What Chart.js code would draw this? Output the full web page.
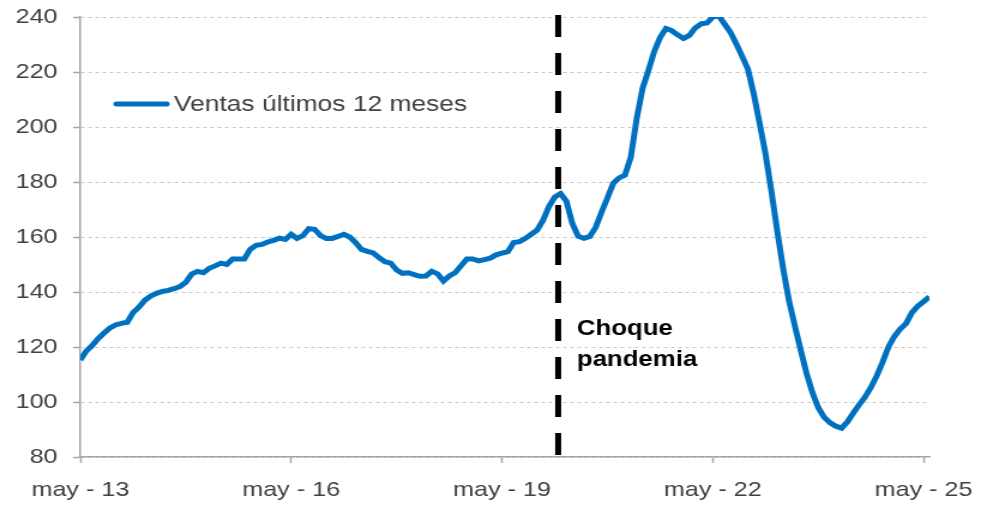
<!DOCTYPE html>
<html>
<head>
<meta charset="utf-8">
<script src="https://cdn.jsdelivr.net/npm/chart.js@4.4.1/dist/chart.umd.min.js"></script>
<style>
  html, body { margin: 0; padding: 0; background: #ffffff; overflow: hidden; }
  #wrap { width: 981px; height: 507px; position: relative; }
</style>
</head>
<body>
<div id="wrap">
  <!-- el original está estirado en horizontal (~1.2x): se dibuja a 818 px y se muestra a 981 px -->
  <canvas id="ventasChart" width="818" height="507" style="width:981px;height:507px"></canvas>
</div>
<script>
// Ventas últimos 12 meses, mensual desde may-13
const ventas = [
    115.3, 118.5, 120.5, 123.0, 125.0, 126.8, 128.0, 128.6, 129.0, 132.5,
    134.5, 137.0, 138.5, 139.5, 140.2, 140.6, 141.2, 142.0, 143.5, 146.5,
    147.5, 147.0, 148.6, 149.5, 150.5, 150.0, 152.0, 152.0, 152.0, 155.5,
    157.0, 157.3, 158.2, 158.8, 159.6, 159.1, 161.0, 159.5, 160.5, 163.0,
    162.8, 160.5, 159.5, 159.5, 160.2, 161.0, 160.0, 158.0, 155.5, 154.8,
    154.2, 152.5, 151.0, 150.5, 148.0, 146.8, 147.0, 146.3, 145.7, 145.8,
    147.5, 146.6, 144.0, 145.8, 147.0, 149.5, 152.0, 152.0, 151.3, 151.8,
    152.3, 153.5, 154.1, 154.7, 158.0, 158.3, 159.5, 161.0, 162.5, 166.0,
    171.0, 174.5, 175.8, 173.0, 165.0, 160.3, 159.5, 160.2, 163.5, 169.0,
    174.2, 179.5, 181.5, 182.5, 189.0, 203.0, 214.0, 220.5, 227.5, 232.5,
    235.8, 235.0, 233.5, 232.2, 233.3, 236.0, 237.5, 237.8, 240.0, 240.5,
    237.5, 234.5, 230.3, 225.8, 221.0, 212.0, 201.3, 190.2, 176.8, 162.3,
    148.8, 137.0, 127.8, 119.0, 110.5, 103.5, 98.0, 94.5, 92.5, 91.2,
    90.5, 92.8, 96.0, 99.0, 101.8, 105.3, 109.5, 114.5, 120.0, 123.8,
    126.5, 128.5, 132.5, 134.8, 136.5, 138.3
];
const xTicks = [0, 36, 72, 108, 144];
const xTickLabels = ['may - 13', 'may - 16', 'may - 19', 'may - 22', 'may - 25'];
const yTicks = [80, 100, 120, 140, 160, 180, 200, 220, 240];
const choqueMes = 81.6; // posición del choque de la pandemia (índice de mes)

const azul = '#0070C0';
const gris = '#A6A6A6';
const texto = '#404040';
const fuente = "'Liberation Sans', Arial, sans-serif";

const puntos = ventas.map((v, i) => ({ x: i, y: v }));

// leyenda y etiqueta dentro del gráfico (coordenadas del lienzo de 818 px)
const textosPlugin = {
    id: 'textos',
    afterDatasetsDraw(chart) {
        const ctx = chart.ctx;
        ctx.save();
        ctx.strokeStyle = azul;
        ctx.lineWidth = 5;
        ctx.lineCap = 'round';
        ctx.beginPath();
        ctx.moveTo(97, 104);
        ctx.lineTo(139, 104);
        ctx.stroke();
        ctx.fillStyle = texto;
        ctx.font = '22px ' + fuente;
        ctx.textBaseline = 'alphabetic';
        ctx.fillText('Ventas últimos 12 meses', 145, 111);

        ctx.fillStyle = '#000000';
        ctx.font = 'bold 21.5px ' + fuente;
        ctx.fillText('Choque', 481, 335);
        ctx.fillText('pandemia', 481, 366);
        ctx.restore();
    }
};

new Chart(document.getElementById('ventasChart').getContext('2d'), {
    type: 'line',
    data: {
        datasets: [{
            label: 'Ventas últimos 12 meses',
            data: puntos,
            borderColor: azul,
            borderWidth: 5,
            pointRadius: 0,
            tension: 0,
            fill: false
        }, {
            label: 'Choque pandemia',
            data: [{ x: choqueMes, y: 240.7 }, { x: choqueMes, y: 80 }],
            borderColor: '#000000',
            borderWidth: 5,
            borderDash: [22, 16],
            pointRadius: 0,
            clip: false
        }]
    },
    options: {
        responsive: false,
        animation: false,
        layout: { padding: { left: 0, top: 17, right: 43, bottom: 0 } },
        plugins: {
            legend: { display: false },
            tooltip: { enabled: false }
        },
        scales: {
            x: {
                type: 'linear',
                min: 0,
                max: 145,
                afterBuildTicks: (scale) => { scale.ticks = xTicks.map(v => ({ value: v })); },
                afterFit: (scale) => {
                    scale.height = 50;
                    scale.paddingLeft = 0;
                    scale.paddingRight = 0;
                },
                ticks: {
                    color: texto,
                    font: { family: fuente, size: 21 },
                    padding: 15,
                    maxRotation: 0,
                    autoSkip: false,
                    callback: (value) => xTickLabels[xTicks.indexOf(value)] || ''
                },
                grid: { drawOnChartArea: false, tickLength: 6, tickColor: gris, tickWidth: 1.5 },
                border: { color: gris, width: 1.5 }
            },
            y: {
                min: 80,
                max: 240,
                afterBuildTicks: (scale) => { scale.ticks = yTicks.map(v => ({ value: v })); },
                afterFit: (scale) => {
                    scale.width = 67;
                    scale.paddingTop = 0;
                    scale.paddingBottom = 0;
                },
                ticks: {
                    color: texto,
                    font: { family: fuente, size: 21 },
                    padding: 13,
                    autoSkip: false
                },
                grid: { color: '#C8C8C8', lineWidth: 1, tickLength: 6, tickColor: gris, tickWidth: 1.5 },
                border: { color: gris, width: 1.5, dash: [3, 3] }
            }
        }
    },
    plugins: [textosPlugin]
});
</script>
</body>
</html>
